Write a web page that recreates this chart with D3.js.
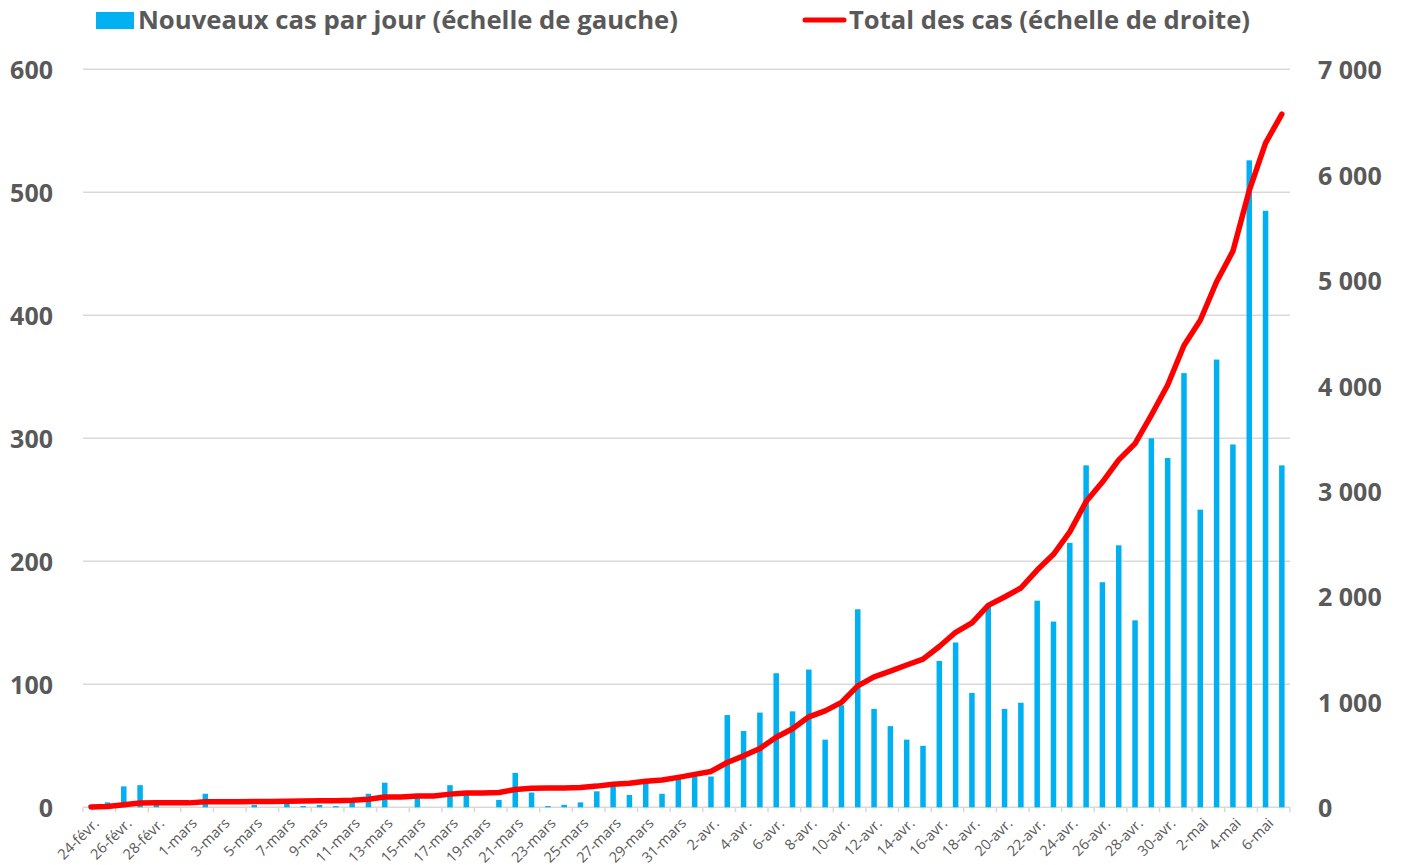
<!DOCTYPE html>
<html>
<head>
<meta charset="utf-8">
<script src="https://cdn.jsdelivr.net/npm/d3@7"></script>
<style>
    body { margin: 0; background: #ffffff; }
    text { font-family: "Open Sans", "Noto Sans", sans-serif; fill: #595959; }
</style>
</head>
<body>
<svg id="chart" width="1407" height="865"></svg>
<script>
"use strict";

var days = [
    "24-févr.", "25-févr.", "26-févr.", "27-févr.", "28-févr.", "29-févr.",
    "1-mars", "2-mars", "3-mars", "4-mars", "5-mars", "6-mars", "7-mars", "8-mars",
    "9-mars", "10-mars", "11-mars", "12-mars", "13-mars", "14-mars", "15-mars",
    "16-mars", "17-mars", "18-mars", "19-mars", "20-mars", "21-mars", "22-mars",
    "23-mars", "24-mars", "25-mars", "26-mars", "27-mars", "28-mars", "29-mars",
    "30-mars", "31-mars",
    "1-avr.", "2-avr.", "3-avr.", "4-avr.", "5-avr.", "6-avr.", "7-avr.", "8-avr.",
    "9-avr.", "10-avr.", "11-avr.", "12-avr.", "13-avr.", "14-avr.", "15-avr.",
    "16-avr.", "17-avr.", "18-avr.", "19-avr.", "20-avr.", "21-avr.", "22-avr.",
    "23-avr.", "24-avr.", "25-avr.", "26-avr.", "27-avr.", "28-avr.", "29-avr.",
    "30-avr.",
    "1-mai", "2-mai", "3-mai", "4-mai", "5-mai", "6-mai", "7-mai"
];

// nouveaux cas par jour (échelle de gauche)
var newCases = [
    2, 4, 17, 18, 2, 0,
    0, 11, 0, 0, 2, 0, 3, 1, 2, 1, 4, 11, 20, 0, 10, 0, 18, 10, 0, 6, 28, 12,
    1, 2, 4, 13, 17, 10, 20, 11, 23,
    25, 25, 75, 62, 77, 109, 78, 112, 55, 83, 161, 80, 66, 55, 50, 119, 134,
    93, 163, 80, 85, 168, 151, 215, 278, 183, 213, 152, 300, 284,
    353, 242, 364, 295, 526, 485, 278
];

// total des cas (échelle de droite)
var totalCases = [
    3, 7, 24, 40, 42, 42,
    42, 53, 53, 53, 55, 55, 58, 59, 61, 62, 66, 77, 97, 97, 107, 107, 125, 135,
    135, 141, 169, 181, 182, 184, 188, 201, 218, 228, 248, 259, 284,
    312, 340, 425, 488, 558, 665, 745, 858, 915, 995, 1152, 1238, 1292, 1350,
    1405, 1525, 1660, 1750, 1915, 1995, 2080, 2250, 2400, 2612, 2900, 3085,
    3295, 3450, 3720, 4005,
    4380, 4620, 4985, 5275, 5850, 6300, 6575
];

var leftTicks = [0, 100, 200, 300, 400, 500, 600];
var rightTicks = [0, 1000, 2000, 3000, 4000, 5000, 6000, 7000];
var rightTickLabels = ["0", "1 000", "2 000", "3 000", "4 000", "5 000", "6 000", "7 000"];

var svg = d3.select("#chart");

var x = d3.scaleBand().domain(days).range([83, 1290]).padding(0);
var yLeft = d3.scaleLinear().domain([0, 600]).range([807.3, 69.3]);
var yRight = d3.scaleLinear().domain([0, 7000]).range([807.3, 69.3]);

// gridlines
svg.append("g")
    .selectAll("line")
    .data(leftTicks.slice(1))
    .join("line")
    .attr("x1", 83)
    .attr("x2", 1290)
    .attr("y1", function (d) { return yLeft(d); })
    .attr("y2", function (d) { return yLeft(d); })
    .attr("stroke", "#d9d9d9")
    .attr("stroke-width", 1.5);

// axe des x
var xAxis = svg.append("g");
xAxis.append("line")
    .attr("x1", 83)
    .attr("x2", 1290)
    .attr("y1", yLeft(0))
    .attr("y2", yLeft(0))
    .attr("stroke", "#d9d9d9")
    .attr("stroke-width", 1.5);

var tickPos = days.filter(function (d, i) { return i % 2 === 0; })
    .map(function (d) { return x(d); })
    .concat([x.range()[1]]);

xAxis.selectAll("line.tick")
    .data(tickPos)
    .join("line")
    .attr("class", "tick")
    .attr("x1", function (d) { return d; })
    .attr("x2", function (d) { return d; })
    .attr("y1", yLeft(0))
    .attr("y2", yLeft(0) + 5)
    .attr("stroke", "#d9d9d9")
    .attr("stroke-width", 1.5);

xAxis.selectAll("text")
    .data(days.filter(function (d, i) { return i % 2 === 0; }))
    .join("text")
    .attr("transform", function (d) {
        return "translate(" + (x(d) + x.bandwidth() / 2 + 5) + "," + (yLeft(0) + 13) + ") rotate(-45)";
    })
    .attr("text-anchor", "end")
    .attr("dominant-baseline", "central")
    .style("font-size", "14.5px")
    .text(function (d) { return d; });

// barres
svg.append("g")
    .selectAll("rect")
    .data(newCases)
    .join("rect")
    .attr("x", function (d, i) { return x(days[i]) + x.bandwidth() / 2 - 2.75; })
    .attr("width", 5.5)
    .attr("y", function (d) { return yLeft(d); })
    .attr("height", function (d) { return yLeft(0) - yLeft(d); })
    .attr("fill", "#00b0f0");

// courbe du total
var line = d3.line()
    .x(function (d, i) { return x(days[i]) + x.bandwidth() / 2; })
    .y(function (d) { return yRight(d); });

svg.append("path")
    .datum(totalCases)
    .attr("fill", "none")
    .attr("stroke", "#ff0000")
    .attr("stroke-width", 5.5)
    .attr("stroke-linejoin", "round")
    .attr("stroke-linecap", "round")
    .attr("d", line);

// axes des y
svg.append("g")
    .selectAll("text")
    .data(leftTicks)
    .join("text")
    .attr("x", 53)
    .attr("y", function (d) { return yLeft(d); })
    .attr("text-anchor", "end")
    .attr("dominant-baseline", "central")
    .style("font-size", "25px")
    .style("font-weight", "bold")
    .text(function (d) { return d; });

svg.append("g")
    .selectAll("text")
    .data(rightTicks)
    .join("text")
    .attr("x", 1318)
    .attr("y", function (d) { return yRight(d); })
    .attr("dominant-baseline", "central")
    .style("font-size", "25px")
    .style("font-weight", "bold")
    .text(function (d, i) { return rightTickLabels[i]; });

// légende
var legend = svg.append("g");
legend.append("rect")
    .attr("x", 96)
    .attr("y", 12)
    .attr("width", 38)
    .attr("height", 17)
    .attr("fill", "#00b0f0");
legend.append("text")
    .attr("x", 138)
    .attr("y", 29)
    .attr("textLength", 540)
    .attr("lengthAdjust", "spacingAndGlyphs")
    .style("font-size", "25px")
    .style("font-weight", "bold")
    .text("Nouveaux cas par jour (échelle de gauche)");

legend.append("line")
    .attr("x1", 805)
    .attr("x2", 844)
    .attr("y1", 20)
    .attr("y2", 20)
    .attr("stroke", "#ff0000")
    .attr("stroke-width", 5)
    .attr("stroke-linecap", "round");
legend.append("text")
    .attr("x", 849)
    .attr("y", 29)
    .attr("textLength", 401)
    .attr("lengthAdjust", "spacingAndGlyphs")
    .style("font-size", "25px")
    .style("font-weight", "bold")
    .text("Total des cas (échelle de droite)");
</script>
</body>
</html>
